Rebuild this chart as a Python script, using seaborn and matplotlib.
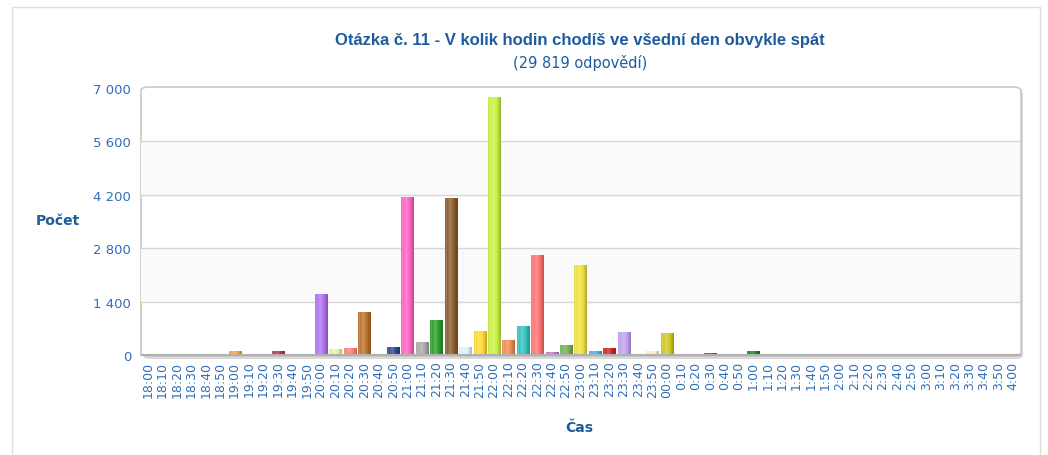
import matplotlib
matplotlib.use('Agg')
import matplotlib.pyplot as plt
import seaborn as sns
import numpy as np
import pandas as pd
from matplotlib.patches import FancyBboxPatch, Rectangle
from matplotlib.colors import to_rgb

# ---- data ----
times = ['18:00', '18:10', '18:20', '18:30', '18:40', '18:50',
         '19:00', '19:10', '19:20', '19:30', '19:40', '19:50',
         '20:00', '20:10', '20:20', '20:30', '20:40', '20:50',
         '21:00', '21:10', '21:20', '21:30', '21:40', '21:50',
         '22:00', '22:10', '22:20', '22:30', '22:40', '22:50',
         '23:00', '23:10', '23:20', '23:30', '23:40', '23:50',
         '00:00', '0:10', '0:20', '0:30', '0:40', '0:50',
         '1:00', '1:10', '1:20', '1:30', '1:40', '1:50',
         '2:00', '2:10', '2:20', '2:30', '2:40', '2:50',
         '3:00', '3:10', '3:20', '3:30', '3:40', '3:50', '4:00']
counts = [20, 3, 3, 15, 3, 10,
          100, 30, 8, 110, 10, 5,
          1600, 150, 175, 1120, 30, 200,
          4150, 350, 920, 4120, 200, 640,
          6760, 390, 750, 2620, 90, 260,
          2360, 100, 180, 590, 30, 100,
          570, 30, 20, 60, 5, 15,
          100, 3, 5, 15, 5, 10,
          25, 5, 5, 5, 3, 3,
          20, 3, 3, 3, 3, 3, 10]
bar_colors = ['#c8e6a0', '#f5c070', '#a0d0f0', '#6fbf8f', '#f0a0c0', '#5b7fc0',
              '#f5a623', '#7fdfe8', '#f0a0c0', '#b03050', '#a0d080', '#c0c0c0',
              '#b070f0', '#e0f5a0', '#ff7f70', '#b8702a', '#a0e8f0', '#2a4a8a',
              '#ff60c0', '#a8a8a8', '#2a9a2a', '#8b5a2b', '#d8f2ff', '#ffd633',
              '#c8f040', '#f08a50', '#30c0c0', '#ff7070', '#c070d0', '#70b050',
              '#f0e040', '#40b0f0', '#d02020', '#c0a0f0', '#f0a060', '#fff0b0',
              '#d0c820', '#ffa0b0', '#f0f080', '#2060c0', '#c0c0c0', '#f09080',
              '#208020', '#c0c0c0', '#f0c0a0', '#f0d060', '#f0b0c0', '#e0a090',
              '#40c0c0', '#c0a0d0', '#a0c080', '#d0d0a0', '#c0c0c0', '#c0c0c0',
              '#f08080', '#c0c0c0', '#c0c0c0', '#c0c0c0', '#c0c0c0', '#c0c0c0', '#f0e080']
yticks = [0, 1400, 2800, 4200, 5600, 7000]
ytick_labels = ['0', '1 400', '2 800', '4 200', '5 600', '7 000']
title = 'Otázka č. 11 - V kolik hodin chodíš ve všední den obvykle spát'
subtitle = '(29 819 odpovědí)'

W, H = 1048, 456
blue = '#1d5c9c'
tick_blue = '#2f6fba'

sns.set_theme(style='white')
plt.rcParams['font.family'] = ['DejaVu Sans']

fig = plt.figure(figsize=(W / 100, H / 100), dpi=100)
fig.patch.set_facecolor('white')

# outer card
fig.patches.append(Rectangle((12 / W, -0.01), 1028 / W, 1 - 8 / H + 0.01,
                             transform=fig.transFigure, facecolor='none',
                             edgecolor='#dedede', lw=1, zorder=-3))

# plot panel with shadow
px0, px1, py0, py1 = 141, 1021, 88, 357
shadow = FancyBboxPatch(((px0 + 2) / W, 1 - (py1 + 3) / H), (px1 - px0) / W, (py1 - py0) / H,
                        boxstyle='round,pad=0,rounding_size=0.008',
                        transform=fig.transFigure, facecolor='#d8d8d8',
                        edgecolor='none', zorder=-2)
panel = FancyBboxPatch((px0 / W, 1 - py1 / H), (px1 - px0) / W, (py1 - py0) / H,
                       boxstyle='round,pad=0,rounding_size=0.008',
                       transform=fig.transFigure, facecolor='white',
                       edgecolor='#c8c8c8', lw=1.2, zorder=-1)
fig.patches.extend([shadow, panel])

ax = fig.add_axes([141 / W, 1 - 356 / H, 879 / W, 267 / H])
ax.set_facecolor('none')
ax.set_zorder(1)

df = pd.DataFrame({'cas': times, 'pocet': counts})
sns.barplot(data=df, x='cas', y='pocet', hue='cas', palette=bar_colors,
            legend=False, width=0.85, saturation=1, ax=ax, edgecolor='none', zorder=3)

# cylinder-like shading clipped to each bar
t = np.linspace(0, 1, 40)
prof = np.interp(t, [0, 0.08, 0.12, 0.4, 0.75, 1.0], [0.85, 1.45, 1.0, 1.25, 0.95, 0.75])
for p in list(ax.patches):
    h = p.get_height()
    if h <= 0:
        continue
    rgb = np.array(to_rgb(p.get_facecolor()))
    grad = np.zeros((1, len(t), 3))
    for i, f in enumerate(prof):
        if f >= 1:
            grad[0, i] = rgb + (1 - rgb) * (f - 1)
        else:
            grad[0, i] = rgb * f
    grad = np.clip(grad, 0, 1)
    x0 = p.get_x()
    im = ax.imshow(grad, extent=[x0, x0 + p.get_width(), 0, h], aspect='auto',
                   interpolation='bilinear', zorder=3.5)
    im.set_clip_path(p)

ax.set_xlim(-0.5, len(times) - 0.5)
ax.set_ylim(0, 7000)

# bands and grid
ax.axhspan(1400, 2800, color='#fafafa', zorder=0)
ax.axhspan(4200, 5600, color='#fafafa', zorder=0)
for yv in yticks[1:-1]:
    ax.axhline(yv, color='#d6d6d6', lw=1, zorder=1)

for s in ax.spines.values():
    s.set_visible(False)
ax.axhline(0, color='#b0b0b0', lw=1.5, zorder=4, clip_on=False)

ax.set_yticks(yticks)
ax.set_yticklabels(ytick_labels, color=tick_blue, fontsize=9.5)
ax.set_xticks(range(len(times)))
ax.set_xticklabels(times, rotation=90, color=tick_blue, fontsize=9)
ax.tick_params(axis='x', length=0, pad=4)
ax.tick_params(axis='y', length=0, pad=7)
ax.set_xlabel('')
ax.set_ylabel('')

fig.text(580 / W, 1 - 40 / H, title, ha='center', va='center', fontsize=12,
         weight='bold', color=blue, family=['Liberation Sans', 'DejaVu Sans'])
fig.text(580 / W, 1 - 63 / H, subtitle, ha='center', va='center', fontsize=10.5,
         color=blue)
fig.text(58 / W, 1 - 221 / H, 'Počet', ha='center', va='center', fontsize=10,
         weight='bold', color=blue)
fig.text(579 / W, 1 - 428 / H, 'Čas', ha='center', va='center', fontsize=10,
         weight='bold', color=blue)

fig.savefig('out.png', dpi=100, facecolor='white')
